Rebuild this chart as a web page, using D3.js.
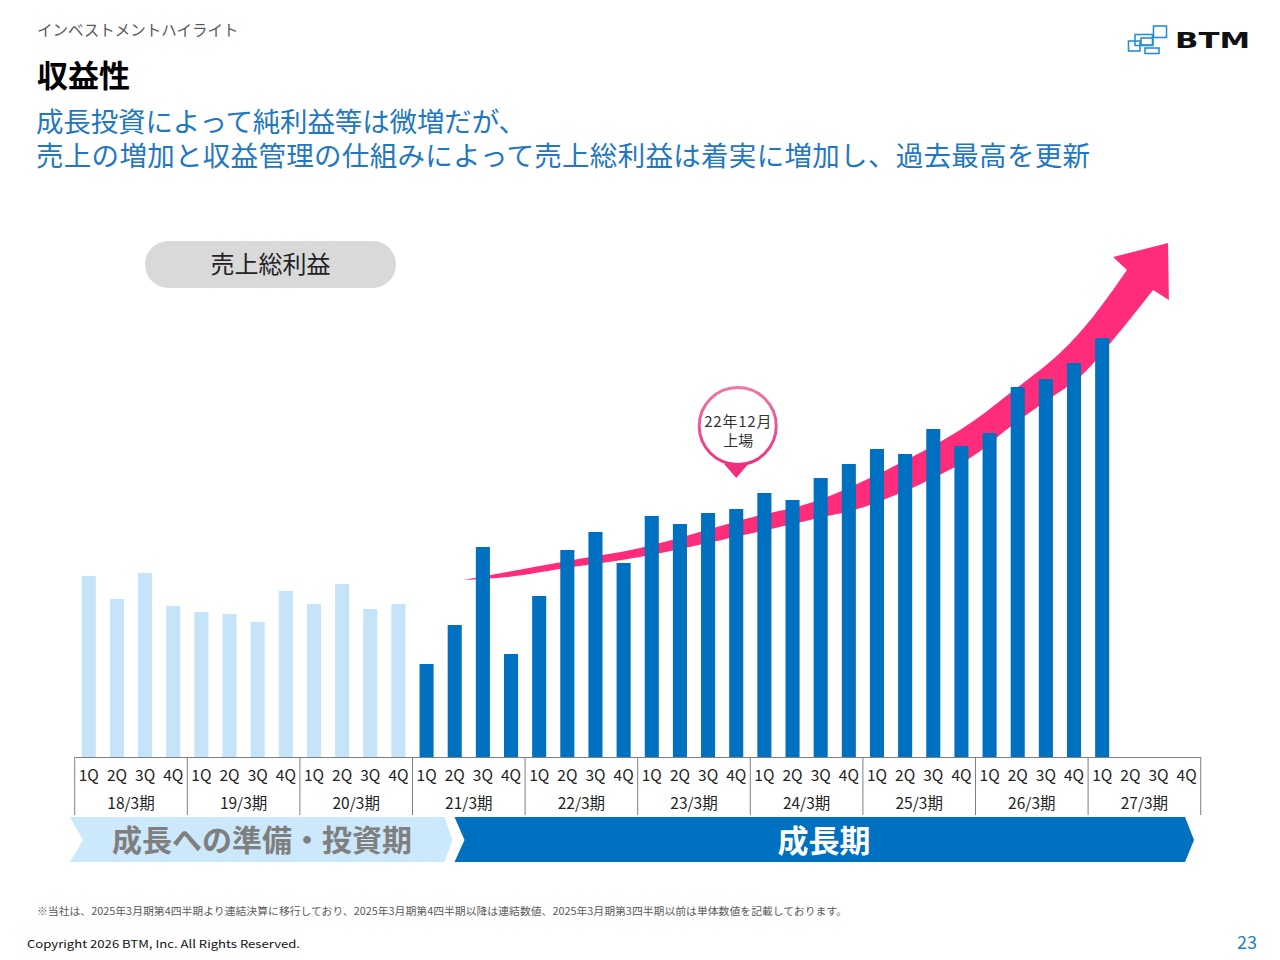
<!DOCTYPE html>
<html><head><meta charset="utf-8">
<script src="https://cdn.jsdelivr.net/npm/d3@7"></script>
<style>
html,body{margin:0;padding:0;background:#fff;}
svg{display:block;font-family:"Noto Sans CJK JP","Noto Sans",sans-serif;}
</style></head>
<body>
<svg id="chart" width="1280" height="960"></svg>
<script>
// ---------- data ----------
const fiscalYears = ['18/3期','19/3期','20/3期','21/3期','22/3期','23/3期','24/3期','25/3期','26/3期','27/3期'];
const quarters = ['1Q','2Q','3Q','4Q'];
// 売上総利益 (relative values)
const grossProfit = [181,158,184,151, 145,143,135,166, 153,173,148,153,
                     93,132,210,103, 161,207,225,194, 241,233,244,248,
                     264,257,279,293, 308,303,328,311, 324,370,378,394, 419];
const phaseNames = ['成長への準備・投資期','成長期'];
const prepQuarterCount = 12; // 18/3期〜20/3期
const listingLabel = ['22年12月','上場'];
const listingQuarter = 23;
// growth arrow guide, in (quarter index, value) units
const arrowUpper = [[13.29,177],[14.86,185],[17.20,197],[19.58,209],[23.60,240],[25.62,254],[27.75,279],[30.95,327],[32.73,364],[34.50,404],[35.67,440],[36.88,487]];
const arrowLower = [[13.29,177],[14.86,180],[17.20,190],[19.58,200],[23.60,224],[25.62,237],[27.75,252],[31.20,297],[32.73,330],[33.90,354],[35.21,380],[36.17,410],[36.88,434],[37.81,467]];
const arrowHead = [[36.39,500],[38.34,514],[38.37,457]];

// ---------- setup ----------
const svg = d3.select('#chart');
const base = 757, left = 74.7, right = 1200.7;
const keys = [];
fiscalYears.forEach(fy => quarters.forEach(q => keys.push(fy + '|' + q)));
const x = d3.scaleBand().domain(keys).range([left, right]).paddingInner(0.5).paddingOuter(0.25);
const xYear = d3.scaleBand().domain(fiscalYears).range([left, right]);
const y = d3.scaleLinear().domain([0, 420]).range([base, 337]);
const qx = i => x(keys[0]) + x.bandwidth() / 2 + i * x.step();

// ---------- header ----------
svg.append('text').attr('x', 37).attr('y', 36).attr('font-size', 15.5).attr('fill', '#595959')
  .text('インベストメントハイライト');
svg.append('text').attr('x', 37).attr('y', 87).attr('font-size', 31).attr('font-weight', 700).attr('fill', '#000')
  .text('収益性');
const sub = ['成長投資によって純利益等は微増だが、', '売上の増加と収益管理の仕組みによって売上総利益は着実に増加し、過去最高を更新'];
const subLen = [490, 1054];
const subT = svg.append('text').attr('font-size', 27.5).attr('fill', '#1f78c1');
sub.forEach((t, i) => subT.append('tspan').attr('x', 36).attr('y', 132 + i * 34)
  .attr('textLength', subLen[i]).attr('lengthAdjust', 'spacing').text(t));

// logo
const logo = svg.append('g').attr('fill', 'none').attr('stroke', '#2a8fd4').attr('stroke-width', 1.6);
[[1128.5,41,11.5,10],[1135,34.5,17.5,11],[1153.5,26,13,11.5],[1145,48,14,5.5],[1141,38,12,7]].forEach(r =>
  logo.append('rect').attr('x', r[0]).attr('y', r[1]).attr('width', r[2]).attr('height', r[3]));
svg.append('text').attr('x', 1175).attr('y', 48).attr('font-size', 22).attr('font-weight', 700)
  .attr('font-family', 'DejaVu Sans').attr('textLength', 75).attr('lengthAdjust', 'spacingAndGlyphs')
  .attr('fill', '#111').text('BTM');

// pill label
svg.append('rect').attr('x', 145).attr('y', 241).attr('width', 251).attr('height', 47).attr('rx', 23.5).attr('fill', '#d9d9d9');
svg.append('text').attr('x', 270.5).attr('y', 273).attr('text-anchor', 'middle').attr('font-size', 24).attr('fill', '#222')
  .text('売上総利益');

// ---------- growth arrow ----------
const line = d3.line().x(d => qx(d[0])).y(d => y(d[1])).curve(d3.curveCatmullRom.alpha(0.5));
const headPath = arrowHead.map(p => `L${qx(p[0])},${y(p[1])}`).join('');
const arrowD = line(arrowUpper) + headPath + line(arrowLower.slice().reverse()).replace(/^M/, 'L') + 'Z';
svg.append('path').attr('d', arrowD).attr('fill', '#fe2c7a');

// ---------- bars ----------
svg.append('g').selectAll('rect').data(grossProfit).join('rect')
  .attr('x', (d, i) => x(keys[i]))
  .attr('y', d => y(d))
  .attr('width', x.bandwidth())
  .attr('height', d => base - y(d))
  .attr('fill', (d, i) => i < prepQuarterCount ? '#c5e4fa' : '#0070c0');

// ---------- listing bubble ----------
const defs = svg.append('defs');
const grad = defs.append('linearGradient').attr('id', 'bub').attr('x1', 0).attr('y1', 0).attr('x2', 0).attr('y2', 1);
grad.append('stop').attr('offset', '0%').attr('stop-color', '#e97aa5');
grad.append('stop').attr('offset', '100%').attr('stop-color', '#f0307f');
const bx = qx(listingQuarter), tipY = y(grossProfit[listingQuarter]) - 31;
svg.append('path').attr('d', `M${bx - 12},${tipY - 14}L${bx + 12},${tipY - 14}L${bx},${tipY}Z`).attr('fill', '#f02f7e');
svg.append('circle').attr('cx', bx + 1.5).attr('cy', tipY - 52).attr('r', 38.5)
  .attr('fill', '#fff').attr('stroke', 'url(#bub)').attr('stroke-width', 3);
listingLabel.forEach((t, i) => svg.append('text').attr('x', bx + 2).attr('y', tipY - 51 + i * 19)
  .attr('text-anchor', 'middle').attr('font-size', 15).attr('letter-spacing', i === 0 ? 0.8 : 0)
  .attr('fill', '#333').text(t));

// ---------- axis table ----------
const gq = svg.append('g').attr('transform', `translate(0,${base})`)
  .call(d3.axisBottom(x).tickSize(0).tickSizeOuter(0).tickFormat(k => k.split('|')[1]));
gq.select('.domain').attr('stroke', '#7f7f7f');
gq.selectAll('text').attr('y', 24).attr('dy', null).attr('font-size', 15.5)
  .attr('font-family', '"Noto Sans CJK JP","Noto Sans",sans-serif').attr('fill', '#222');

const gy = svg.append('g').attr('transform', `translate(0,${base})`)
  .call(d3.axisBottom(xYear).tickSize(0).tickSizeOuter(0));
gy.select('.domain').remove();
gy.selectAll('text').attr('y', 52).attr('dy', null).attr('font-size', 15.5)
  .attr('font-family', '"Noto Sans CJK JP","Noto Sans",sans-serif').attr('fill', '#222');

const seps = fiscalYears.map(f => xYear(f)).concat([right]);
svg.append('g').selectAll('line').data(seps).join('line')
  .attr('x1', d => d).attr('x2', d => d).attr('y1', base).attr('y2', 815)
  .attr('stroke', '#7f7f7f').attr('stroke-width', 1);

// ---------- phase banners ----------
const splitX = xYear(fiscalYears[3]) + 40;
svg.append('path').attr('d', `M70,817L${splitX - 8},817L${splitX},840L${splitX - 8},862L70,862L83,840Z`).attr('fill', '#cce8fb');
svg.append('path').attr('d', `M${splitX + 2},817L1185,817L1194,840L1185,862L${splitX + 2},862L${splitX + 12},840Z`).attr('fill', '#0070c0');
svg.append('text').attr('x', 262).attr('y', 851).attr('text-anchor', 'middle').attr('font-size', 30)
  .attr('font-weight', 700).attr('fill', '#7f7f7f').text(phaseNames[0]);
svg.append('text').attr('x', 824).attr('y', 852).attr('text-anchor', 'middle').attr('font-size', 31)
  .attr('font-weight', 700).attr('fill', '#fff').text(phaseNames[1]);

// ---------- footer ----------
svg.append('text').attr('x', 37).attr('y', 915).attr('font-size', 10).attr('fill', '#595959')
  .attr('textLength', 810).attr('lengthAdjust', 'spacingAndGlyphs')
  .text('※当社は、2025年3月期第4四半期より連結決算に移行しており、2025年3月期第4四半期以降は連結数値、2025年3月期第3四半期以前は単体数値を記載しております。');
svg.append('text').attr('x', 27).attr('y', 948).attr('font-size', 11).attr('fill', '#111')
  .attr('textLength', 273).attr('lengthAdjust', 'spacingAndGlyphs')
  .text('Copyright 2026 BTM, Inc. All Rights Reserved.');
svg.append('text').attr('x', 1257).attr('y', 949).attr('text-anchor', 'end').attr('font-size', 18).attr('fill', '#1a82c8')
  .text('23');
</script>
</body></html>
